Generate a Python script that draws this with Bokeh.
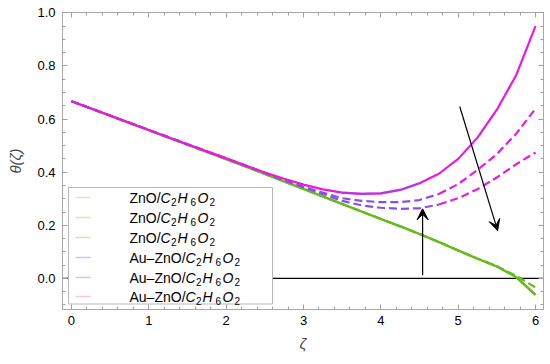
from bokeh.plotting import figure
from bokeh.models import (Range1d, LinearAxis, SingleIntervalTicker, NumeralTickFormatter,
                          CustomJSTickFormatter, Span, Arrow, VeeHead, Label)
from bokeh.embed import file_html
from bokeh.resources import INLINE

# ---------------- data ----------------
zeta = [0, 0.5, 1, 1.5, 2, 2.25, 2.5, 2.75, 3, 3.25, 3.5, 3.75, 4, 4.25, 4.5, 4.75,
        5, 5.25, 5.5, 5.75, 6]
# ZnO/C2H6O2 curves
zno_1 = [0.667, 0.612, 0.558, 0.503, 0.449, 0.421, 0.393, 0.365, 0.337, 0.308, 0.280, 0.252,
         0.224, 0.196, 0.167, 0.137, 0.105, 0.074, 0.045, 0.005, -0.062]
zno_2 = [0.667, 0.612, 0.558, 0.503, 0.449, 0.421, 0.393, 0.365, 0.337, 0.308, 0.280, 0.252,
         0.224, 0.196, 0.167, 0.137, 0.105, 0.074, 0.045, 0.005, -0.062]
zno_3 = [0.667, 0.612, 0.558, 0.503, 0.449, 0.421, 0.393, 0.365, 0.337, 0.308, 0.280, 0.252,
         0.224, 0.196, 0.167, 0.137, 0.105, 0.075, 0.046, 0.010, -0.034]
# Au-ZnO/C2H6O2 curves
au_1 = [0.667, 0.613, 0.559, 0.505, 0.452, 0.425, 0.399, 0.375, 0.353, 0.335, 0.323, 0.318,
        0.320, 0.333, 0.358, 0.394, 0.450, 0.530, 0.635, 0.765, 0.950]
au_2 = [0.667, 0.613, 0.559, 0.505, 0.452, 0.425, 0.398, 0.371, 0.345, 0.323, 0.302, 0.292,
        0.287, 0.287, 0.295, 0.318, 0.355, 0.408, 0.468, 0.545, 0.639]
au_3 = [0.667, 0.613, 0.559, 0.505, 0.452, 0.425, 0.397, 0.369, 0.343, 0.318, 0.292, 0.275,
        0.266, 0.262, 0.264, 0.278, 0.302, 0.336, 0.380, 0.430, 0.474]

legend_heads = ["ZnO/", "ZnO/", "ZnO/", "Au\u2013ZnO/", "Au\u2013ZnO/", "Au\u2013ZnO/"]
legend_colors = ["#f0b060", "#a0d070", "#90c860", "#8080f0", "#b070f0", "#f080c0"]

# annotation arrows (start x, start y, end x, end y)
arrow_up = (4.54, 0.012, 4.54, 0.262)
arrow_down = (5.02, 0.647, 5.51, 0.18)

x_ticks_interval = 1
y_ticks_interval = 0.2

# ---------------- geometry ----------------
FONT = "Liberation Sans"
W, H = 550, 364
BL, BR, BT, BB = 62, 7, 12, 55
X0, X1 = -0.116, 6.103
Y0, Y1 = -0.117, 1.001
# position of the frame on the canvas (the page itself has no margin)
FL, FR = BL, W - BR
FT, FB = BT, H - BB


def px2x(px):
    return X0 + (px - FL) / (FR - FL) * (X1 - X0)


def px2y(py):
    return Y1 - (py - FT) / (FB - FT) * (Y1 - Y0)


p = figure(width=W, height=H, output_backend="svg", toolbar_location=None,
           x_range=Range1d(X0, X1), y_range=Range1d(Y0, Y1),
           min_border_left=BL, min_border_right=BR, min_border_top=BT, min_border_bottom=BB,
           x_axis_label="\u03b6", y_axis_label="\u03b8(\u03b6)")
p.xgrid.visible = False
p.ygrid.visible = False
p.outline_line_color = "#a8a8a8"


def style_axis(ax, show_labels=True):
    ax.axis_line_color = "#a8a8a8"
    ax.major_tick_line_color = "#a0a0a0"
    ax.minor_tick_line_color = "#a0a0a0"
    ax.major_tick_in = 5
    ax.major_tick_out = 0
    ax.minor_tick_in = 3
    ax.minor_tick_out = 0
    ax.major_label_text_font = FONT
    ax.major_label_text_font_size = "13px"
    ax.major_label_text_color = "black"
    ax.axis_label_text_font = FONT
    ax.axis_label_text_font_size = "15px"
    ax.axis_label_text_font_style = "italic"
    if not show_labels:
        ax.formatter = CustomJSTickFormatter(code="return ''")
        ax.major_label_standoff = 0
        ax.axis_label = None


p.xaxis[0].ticker = SingleIntervalTicker(interval=x_ticks_interval, num_minor_ticks=5)
p.yaxis[0].ticker = SingleIntervalTicker(interval=y_ticks_interval, num_minor_ticks=4)
p.yaxis[0].formatter = NumeralTickFormatter(format="0.0")
p.xaxis[0].formatter = NumeralTickFormatter(format="0")
style_axis(p.xaxis[0])
style_axis(p.yaxis[0])
p.xaxis[0].major_label_standoff = 6
p.xaxis[0].axis_label_standoff = 7
p.yaxis[0].major_label_standoff = 7
p.yaxis[0].axis_label_standoff = 10

top_ax = LinearAxis(ticker=SingleIntervalTicker(interval=x_ticks_interval, num_minor_ticks=5))
right_ax = LinearAxis(ticker=SingleIntervalTicker(interval=y_ticks_interval, num_minor_ticks=4))
style_axis(top_ax, False)
style_axis(right_ax, False)
p.add_layout(top_ax, "above")
p.add_layout(right_ax, "right")

# zero line
p.add_layout(Span(location=0, dimension="width", line_color="black", line_width=1.2,
                  level="underlay"))

# ---------------- curves ----------------
ORANGE = "#e8a030"
GREEN = "#5fbf1f"
MAGENTA = "#ea18e2"
PURPLE = "#8a50e6"
LW = 2.2

p.line(zeta, zno_1, line_color=ORANGE, line_width=LW)
p.line(zeta, zno_3, line_color=GREEN, line_width=LW, line_dash="8 4")
p.line(zeta, zno_2, line_color=GREEN, line_width=LW)

split = 15  # index where dashed curves turn from purple to magenta
for ys in (au_3, au_2):
    p.line(zeta[:split + 1], ys[:split + 1], line_color=PURPLE, line_width=LW, line_dash="8 4")
    p.line(zeta[split:], ys[split:], line_color=MAGENTA, line_width=LW, line_dash="8 4")
p.line(zeta, au_1, line_color=MAGENTA, line_width=LW)
p.line(zeta[10:15], au_1[10:15], line_color="#9848ec", line_width=LW, line_alpha=0.6)

# ---------------- arrows ----------------
for (xs, ys_, xe, ye) in (arrow_up, arrow_down):
    p.add_layout(Arrow(x_start=xs, y_start=ys_, x_end=xe, y_end=ye, line_color="black",
                       line_width=1.2,
                       end=VeeHead(size=11, fill_color="black", line_color="black")))

# ---------------- legend (hand made, placed in canvas pixels) ----------------
lb_left, lb_right, lb_top, lb_bottom = 68, 272, 187, 303.5
p.quad(left=[px2x(lb_left)], right=[px2x(lb_right)], top=[px2y(lb_top)],
       bottom=[px2y(lb_bottom)], fill_color="white", line_color="#b8b8b8", line_width=1)

row_y = [197, 217, 237, 257, 277, 296]
for i, (head, col) in enumerate(zip(legend_heads, legend_colors)):
    yp = row_y[i]
    p.line([px2x(75), px2x(90)], [px2y(yp), px2y(yp)], line_color=col, line_width=1.5,
           line_alpha=0.45)
    x0 = 129
    off = 25 if head.startswith("Au") else 0
    pieces = [(head, 0, "normal", 14, 0),
              ("C", 31 + off, "italic", 14, 0),
              ("2", 41.5 + off, "normal", 10, 4),
              ("H", 48 + off, "italic", 14, 0),
              ("6", 61 + off, "normal", 10, 4),
              ("O", 68 + off, "italic", 14, 0),
              ("2", 80 + off, "normal", 10, 4)]
    for txt, dx, style, size, dy in pieces:
        p.add_layout(Label(x=px2x(x0 + dx), y=px2y(yp + dy), text=txt, text_font=FONT,
                           text_font_size=f"{size}px", text_font_style=style,
                           text_baseline="middle", text_align="left", text_color="black"))

open("out.html", "w").write(file_html(p, INLINE))
